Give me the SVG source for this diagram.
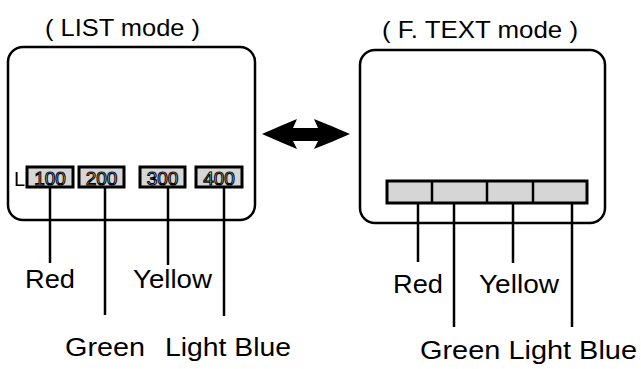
<svg xmlns="http://www.w3.org/2000/svg" width="641" height="369" viewBox="0 0 641 369">
<style>
.t{font-family:"Liberation Sans",Arial,sans-serif;fill:#000}
.ttl{font-size:24px}
.lbl{font-size:26px}
.num{font-family:"Liberation Sans",Arial,sans-serif;font-size:19px;fill:#fff;stroke:#000;stroke-width:1.1px}
.scr{fill:none;stroke:#000;stroke-width:2.5}
.box{fill:#d6d6d6;stroke:#000;stroke-width:3}
.ln{stroke:#000;stroke-width:2.5;fill:none}
</style>
<rect width="641" height="369" fill="#fff"/>
<g id="list-screen">
<text class="t ttl" x="45" y="36" textLength="155" lengthAdjust="spacingAndGlyphs">( LIST mode )</text>
<rect class="scr" x="8" y="47" width="247" height="173" rx="15"/>
<text class="t" x="14" y="186" font-size="20">L</text>
<rect class="box" x="27" y="167" width="46" height="20"/>
<rect class="box" x="79" y="167" width="45" height="20"/>
<rect class="box" x="140" y="167" width="45" height="20"/>
<rect class="box" x="196" y="167" width="46" height="20"/>
<text class="num" x="50" y="185" text-anchor="middle">100</text>
<text class="num" x="101.5" y="185" text-anchor="middle">200</text>
<text class="num" x="162.5" y="185" text-anchor="middle">300</text>
<text class="num" x="219" y="185" text-anchor="middle">400</text>
</g>
<g id="ftext-screen">
<text class="t ttl" x="382" y="38" textLength="196" lengthAdjust="spacingAndGlyphs">( F. TEXT mode )</text>
<rect class="scr" x="360" y="50" width="245" height="173" rx="15"/>
<rect class="box" x="387" y="181" width="200" height="22"/>
<line class="ln" x1="432" y1="181" x2="432" y2="203"/>
<line class="ln" x1="487" y1="181" x2="487" y2="203"/>
<line class="ln" x1="533" y1="181" x2="533" y2="203"/>
</g>
<g id="arrow">
<path d="M262,134 Q280,126 297,119 L293,128 L318,128 L314,119 Q332,126 350,134 Q332,142 314,149 L318,141 L293,141 L297,149 Q280,142 262,134 Z" fill="#000"/>
</g>
<g id="connectors">
<line class="ln" x1="50" y1="187" x2="50" y2="263"/>
<line class="ln" x1="105" y1="187" x2="105" y2="315"/>
<line class="ln" x1="168" y1="187" x2="168" y2="265"/>
<line class="ln" x1="224" y1="187" x2="224" y2="316"/>
<line class="ln" x1="418" y1="203" x2="418" y2="262"/>
<line class="ln" x1="454" y1="203" x2="454" y2="327"/>
<line class="ln" x1="513" y1="203" x2="513" y2="263"/>
<line class="ln" x1="572" y1="203" x2="572" y2="327"/>
</g>
<g id="labels-left">
<text class="t lbl" x="25" y="288" textLength="50" lengthAdjust="spacingAndGlyphs">Red</text>
<text class="t lbl" x="133" y="288" textLength="79" lengthAdjust="spacingAndGlyphs">Yellow</text>
<text class="t lbl" x="65" y="356" textLength="80" lengthAdjust="spacingAndGlyphs">Green</text>
<text class="t lbl" x="165" y="356" textLength="126" lengthAdjust="spacingAndGlyphs">Light Blue</text>
</g>
<g id="labels-right">
<text class="t lbl" x="393" y="293" textLength="50" lengthAdjust="spacingAndGlyphs">Red</text>
<text class="t lbl" x="479" y="293" textLength="80" lengthAdjust="spacingAndGlyphs">Yellow</text>
<text class="t lbl" x="420" y="359" textLength="217" lengthAdjust="spacingAndGlyphs">Green Light Blue</text>
</g>
</svg>
